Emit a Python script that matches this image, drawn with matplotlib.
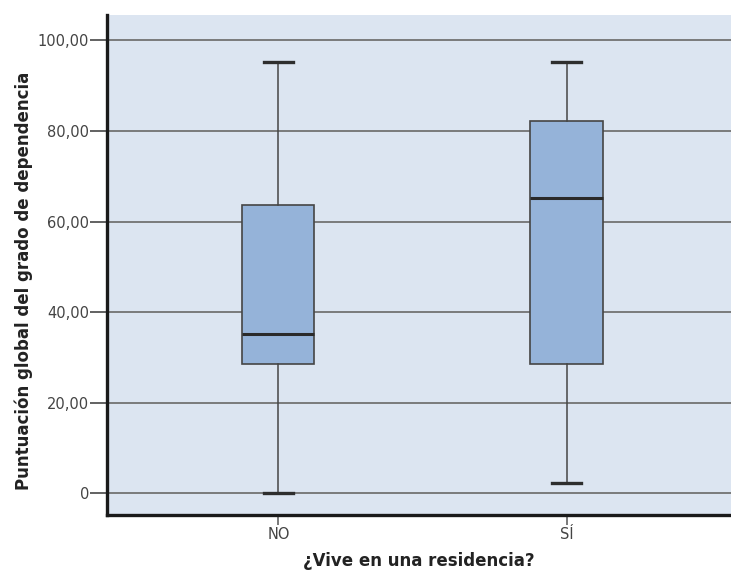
import matplotlib
matplotlib.use("Agg")
import matplotlib.pyplot as plt

# Five-number summaries per group
categories = ["NO", "SÍ"]
whisker_low = [0.0, 2.3]
q1 = [28.6, 28.6]
median = [35.2, 65.3]
q3 = [63.7, 82.2]
whisker_high = [95.2, 95.2]

y_ticks = [0, 20, 40, 60, 80, 100]
y_tick_labels = ["0", "20,00", "40,00", "60,00", "80,00", "100,00"]

plt.rcParams["font.family"] = ["DejaVu Sans"]

fig = plt.figure(figsize=(7.31, 5.70), dpi=100)
ax = fig.add_axes([0.1464, 0.0965, 0.8536, 0.8772])
ax.set_facecolor("#dce5f1")

stats = []
for i, cat in enumerate(categories):
    stats.append({
        "label": cat,
        "whislo": whisker_low[i],
        "q1": q1[i],
        "med": median[i],
        "q3": q3[i],
        "whishi": whisker_high[i],
        "fliers": [],
    })

ax.yaxis.grid(True, color="#727272", linewidth=1.3, zorder=0)
ax.set_axisbelow(True)

ax.bxp(
    stats,
    positions=range(len(categories)),
    widths=0.25,
    patch_artist=True,
    showfliers=False,
    boxprops=dict(facecolor="#95b3d9", edgecolor="#454545", linewidth=1.2),
    medianprops=dict(color="#2a2a2a", linewidth=2.2),
    whiskerprops=dict(color="#454545", linewidth=1.1),
    capprops=dict(color="#2e2e2e", linewidth=2.4),
    capwidths=0.1,
)

ax.set_xlim(-0.595, 1.571)
ax.set_ylim(-4.8, 105.6)
ax.set_yticks(y_ticks)
ax.set_yticklabels(y_tick_labels)
ax.set_xticks(range(len(categories)))
ax.set_xticklabels(categories)

for side in ("top", "right"):
    ax.spines[side].set_visible(False)
for side in ("left", "bottom"):
    ax.spines[side].set_linewidth(2.4)
    ax.spines[side].set_color("#1a1a1a")

ax.tick_params(axis="y", length=12, width=1.3, color="#555555",
               labelsize=10.5, labelcolor="#444444", pad=1)
ax.tick_params(axis="x", length=7, width=1.1, color="#555555",
               labelsize=10.5, labelcolor="#444444", pad=2)

ax.set_ylabel("Puntuación global del grado de dependencia",
              fontsize=12, fontweight="bold", color="#222222")
ax.yaxis.set_label_coords(-0.1186, 0.468)
ax.set_xlabel("¿Vive en una residencia?",
              fontsize=12, fontweight="bold", color="#222222")
ax.xaxis.set_label_coords(0.5, -0.074)

fig.savefig("out.png", dpi=100)
